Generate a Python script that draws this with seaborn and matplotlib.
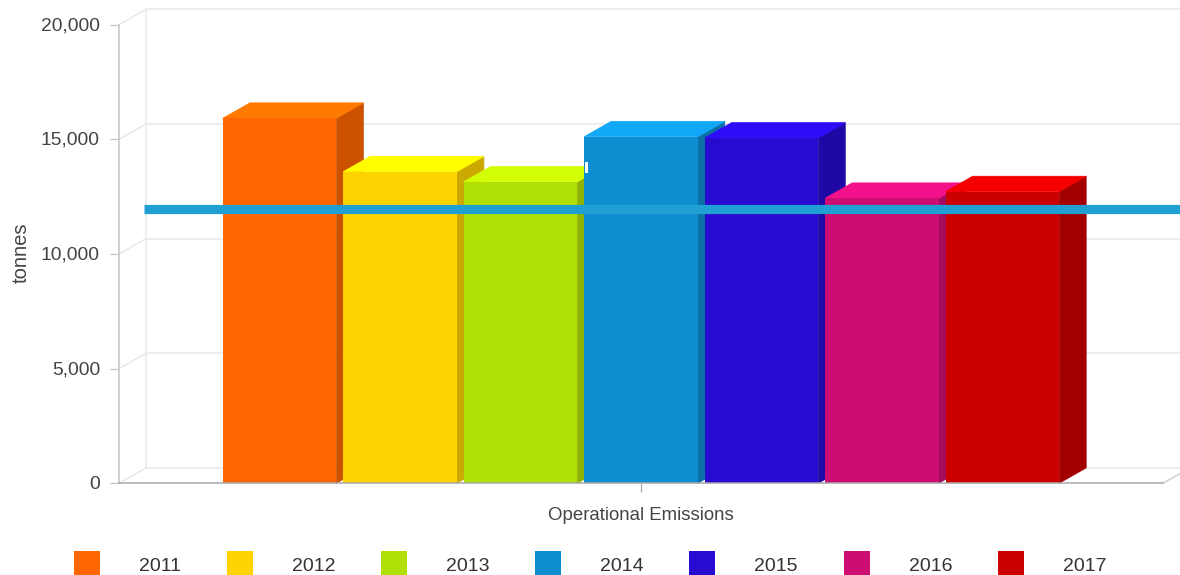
import matplotlib
matplotlib.use("Agg")
import matplotlib.pyplot as plt
from matplotlib.colors import to_rgb
from matplotlib.patches import Polygon, Rectangle
from matplotlib.ticker import FuncFormatter
from matplotlib.transforms import Affine2D
import pandas as pd
import seaborn as sns

category = ["Operational Emissions"]
years = ["2011", "2012", "2013", "2014", "2015", "2016", "2017"]
values = [15920, 13590, 13150, 15115, 15060, 12430, 12720]
colors = ["#ff6600", "#ffd300", "#b0e005", "#0e8cd0", "#270bd0", "#cc0e74", "#cc0000"]
average = 11970
y_ticks = [0, 5000, 10000, 15000, 20000]

W, H = 1180, 575
sns.set_theme(style="white")
plt.rcParams["font.family"] = ["Liberation Sans", "DejaVu Sans"]

fig = plt.figure(figsize=(W / 100, H / 100), dpi=100)
ax = fig.add_axes([119 / W, 1 - 483.3 / H, 1044 / W, 458.6 / H])

df = pd.DataFrame({"category": category * len(years), "year": years, "value": values})
sns.barplot(data=df, x="category", y="value", hue="year", hue_order=years,
            palette=colors, saturation=1, width=0.8077, gap=0.057,
            linewidth=0, edgecolor="none", ax=ax)
ax.set_xlim(-0.5, 0.5)
ax.set_ylim(0, 20000)

# 3D depth, expressed in data units of this axes
dx = 27 / 1044
dy = 15.4 / 458.6 * 20000

wall = "#e8e8e8"
x0, x1 = ax.get_xlim()
for t in y_ticks:
    ax.plot([x0 + dx, x1 + dx], [t + dy, t + dy], color=wall, lw=1.1, zorder=0.5, clip_on=False)
    ax.plot([x0, x0 + dx], [t, t + dy], color=wall, lw=1.1, zorder=0.5, clip_on=False)
ax.plot([x0 + dx, x0 + dx], [dy, 20000 + dy], color=wall, lw=1.1, zorder=0.5, clip_on=False)
ax.plot([x1, x1 + dx], [0, dy], color="#d0d0d0", lw=1.1, zorder=0.5, clip_on=False)


def shade(color, factor):
    return tuple(min(c * factor, 1) for c in to_rgb(color))


for i, (bar, color) in enumerate(zip(ax.patches, colors)):
    z = 2 + i
    left = bar.get_x()
    right = left + bar.get_width()
    top = bar.get_height()
    bar.set_zorder(z + 0.2)
    bar.set_clip_on(False)
    side = shade(color, 0.8)
    cap = shade(color, 1.2)
    ax.add_patch(Polygon([(right, 0), (right + dx, dy), (right + dx, top + dy), (right, top)],
                         closed=True, fc=side, ec=side, lw=0.5, zorder=z, clip_on=False))
    ax.add_patch(Polygon([(left, top), (left + dx, top + dy), (right + dx, top + dy), (right, top)],
                         closed=True, fc=cap, ec=cap, lw=0.5, zorder=z + 0.1, clip_on=False))

# small white notch on the left edge of the 2014 bar
ax.add_patch(Rectangle((ax.patches[3].get_x() + 1 / 1044, 13530), 3 / 1044, 480, fc="white", ec="none", zorder=19))

ax.plot([x0 + dx - 0.002, x1 + dx], [average, average], color="#1f9fd2", lw=6.6,
        solid_capstyle="butt", zorder=20, clip_on=False)

sns.despine(ax=ax, top=True, right=True)
ax.spines["left"].set_color("#c4c4c4")
ax.spines["left"].set_linewidth(1.1)
ax.spines["bottom"].set_color("#a8a8a8")
ax.spines["bottom"].set_linewidth(1.1)
ax.spines["bottom"].set_zorder(15)

ax.set_yticks(y_ticks)
ax.yaxis.set_major_formatter(FuncFormatter(lambda v, _: f"{int(v):,}"))
ax.tick_params(axis="y", left=True, length=6.5, width=0.9, color="#c4c4c4", pad=7.2,
               labelsize=13.9, labelcolor="#444444")
ax.tick_params(axis="x", bottom=True, length=6.5, width=0.9, color="#a8a8a8", pad=10.5,
               labelsize=13.4, labelcolor="#444444")
ax.set_xlabel("")
ax.set_ylabel("")
for lbl in ax.get_yticklabels():
    lbl.set_transform(lbl.get_transform() + Affine2D().translate(0, 1))
fig.text(21 / W, 1 - 253 / H, "tonnes", rotation=90, ha="center", va="center",
         fontsize=14.5, color="#444444")

handles, labels = ax.get_legend_handles_labels()
fs = 14
px = 100 / 72 * fs
leg = ax.legend(handles, labels, ncol=7, frameon=False, loc="lower left",
                bbox_to_anchor=(74 / W, 0), bbox_transform=fig.transFigure,
                fontsize=fs, labelcolor="#333333", borderpad=0, borderaxespad=0,
                handlelength=26 / px, handleheight=((24 / px) - 0.245) / 0.65, handletextpad=39 / px,
                columnspacing=45.7 / px)
for t in leg.get_texts():
    t.set_y(-1.44)

fig.savefig("out.png", dpi=100, facecolor="white")
